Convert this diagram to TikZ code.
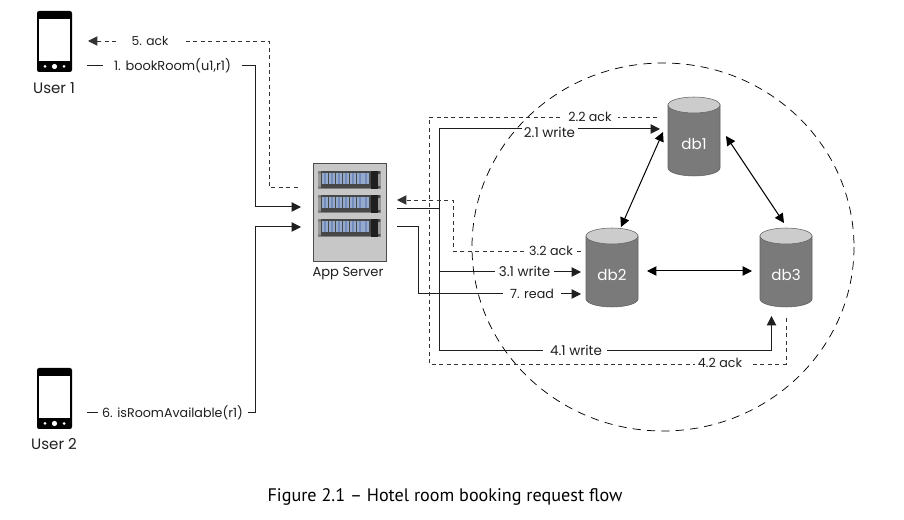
\documentclass[tikz,border=0pt]{standalone}
\usepackage{fontspec}
\setmainfont{Poppins}
\newfontfamily\capfont{PT Sans}
\usetikzlibrary{arrows.meta,positioning,calc}
\definecolor{rackblue}{RGB}{150,170,205}
\definecolor{rackdeep}{RGB}{115,140,185}
\tikzset{
  lbl/.style={inner sep=0pt,font=\fontsize{9.5pt}{11pt}\selectfont,text=black!88,anchor=center},
  wlbl/.style={lbl,font=\fontsize{10.1pt}{11pt}\selectfont},
  flow/.style={draw=black!88,line width=0.75pt},
  ackline/.style={draw=black!80,line width=0.65pt,dash pattern=on 3pt off 2.6pt},
  tip/.style={-{Triangle[length=7pt,width=7pt]}},
  both/.style={{Triangle[length=7pt,width=7pt]}-{Triangle[length=7pt,width=7pt]},draw=black,line width=0.75pt},
  dbtxt/.style={inner sep=0pt,text=white,font=\fontsize{11.3pt}{12pt}\selectfont},
}
\newcommand{\dbcyl}[3]{% name, left x, top y
  \fill[fill=black!52,draw=black!62,line width=0.4pt] (#2,#3+8) -- (#2,#3+71) arc[start angle=180,end angle=0,x radius=26,y radius=8] -- (#2+52,#3+8) -- cycle;
  \fill[fill=black!20,draw=black!62,line width=0.4pt] (#2+26,#3+8) ellipse[x radius=26,y radius=8];
  \node[dbtxt] (#1) at (#2+26,#3+47) {#1};
}
\newcommand{\phone}[2]{% left x, top y
  \fill[black,rounded corners=1.6pt] (#1,#2) rectangle (#1+35,#2+61);
  \fill[white] (#1+2,#2+8) rectangle (#1+33,#2+50);
  \fill[white] (#1+17.5,#2+55.5) circle[radius=2.6];
  \fill[white] (#1+8,#2+55.5) circle[radius=1.5];
  \fill[white] (#1+27,#2+55.5) circle[radius=1.5];
}
\newcommand{\rack}[1]{% top y
  \fill[black!50] (318,#1) rectangle (381,#1+18);
  \fill[black!72] (321,#1+0.5) rectangle (380,#1+17.5);
  \fill[black!88] (371,#1) rectangle (378,#1+18);
  \fill[black!40] (378,#1+3) rectangle (381,#1+15);
  \fill[black!40] (318,#1+3) rectangle (320.5,#1+15);
  \foreach \k in {0,...,6}{
    \fill[rackblue] (322+6.9*\k,#1+2) rectangle (328+6.9*\k,#1+13);
    \fill[rackdeep] (324+6.9*\k,#1+2) rectangle (326+6.9*\k,#1+13);
  }
}
\begin{document}
\begin{tikzpicture}[x=0.75pt,y=-0.75pt]
\useasboundingbox (0,0) rectangle (904,520);
\fill[white] (0,0) rectangle (904,520);

% dashed zone
\draw[black,line width=0.55pt,dash pattern=on 6.2pt off 4.6pt] (663,247) ellipse[x radius=191,y radius=184];

% devices
\phone{37}{11}
\phone{37}{368}
\node[lbl,font=\fontsize{11.3pt}{13pt}\selectfont] (user1) at (54,88) {User 1};
\node[lbl,font=\fontsize{11.3pt}{13pt}\selectfont] (user2) at (54,444) {User 2};

% server
\node[draw=black!70,fill=black!22,line width=0.5pt,minimum width=73*0.75pt,minimum height=98*0.75pt,inner sep=0pt] (server) at (349.5,212) {};
\rack{171}\rack{195}\rack{219}
\node[lbl,font=\fontsize{9.8pt}{12pt}\selectfont] (serverlbl) at (348,274) {App Server};

% databases
\dbcyl{db1}{668}{97}
\dbcyl{db2}{586}{228}
\dbcyl{db3}{760}{228}

% labels
\node[lbl,font=\fontsize{9.2pt}{11pt}\selectfont] (l5) at (150,41) {5. ack};
\node[lbl,font=\fontsize{9.7pt}{11pt}\selectfont] (l1) at (172.5,66) {1. bookRoom(u1,r1)};
\node[lbl] (l6) at (172.5,413) {6. isRoomAvailable(r1)};
\node[lbl] (l22) at (590,117) {2.2 ack};
\node[wlbl] (l21) at (549.5,132) {2.1 write};
\node[lbl] (l32) at (551,251) {3.2 ack};
\node[wlbl] (l31) at (524.5,271) {3.1 write};
\node[lbl] (l7) at (532,294) {7. read};
\node[wlbl] (l41) at (576,350) {4.1 write};
\node[lbl] (l42) at (720,363) {4.2 ack};

% free ends
\coordinate (u1out) at (87,66);
\coordinate (u1in) at (88,41);
\coordinate (u2out) at (87,413);
\coordinate (sIn1) at (301,207);
\coordinate (sIn2) at (301,227);
\coordinate (sAck) at (301,187);
\coordinate (sOut1) at (397,209);
\coordinate (sOut2) at (397,227);
\coordinate (sAckIn) at (397,200);
\coordinate (bus) at (439,209);
\coordinate (db1in) at (660,129);
\coordinate (db1ack) at (657,117);
\coordinate (db2in1) at (581,272);
\coordinate (db2in2) at (581,294);
\coordinate (db2ack) at (581,251);
\coordinate (db3in) at (771.5,316);
\coordinate (db3ack) at (786,318);

% requests
\draw[flow] (u1out) -- (103,66);
\draw[flow,tip] (242,66) -- (255,66) -- (255,207) -- (sIn1);
\draw[flow] (u2out) -- (98,413);
\draw[flow,tip] (248,413) -- (255,413) -- (255,227) -- (sIn2);
\draw[ackline,tip] (l5.west) ++(-15,0) -- (u1in);
\draw[ackline] (186,41) -- (269,41) -- (269,187) -- (sAck);

% writes
\draw[flow] (sOut1) -- (bus);
\draw[flow] (522,129) -- (439,129) -- (439,351) -- (543,351);
\draw[flow,tip] (578,129) -- (db1in);
\draw[flow] (607,351) -- (771.5,351);
\draw[flow,tip] (771.5,351) -- (db3in);
\draw[flow] (439,272) -- (495,272);
\draw[flow,tip] (554,272) -- (db2in1);
\draw[flow] (sOut2) -- (418,227) -- (418,294) -- (503,294);
\draw[flow,tip] (561,294) -- (db2in2);

% acks
\draw[ackline] (db1ack) -- (618,117);
\draw[ackline] (560,117) -- (429,117) -- (429,364) -- (695,364);
\draw[ackline] (753,364) -- (786,364) -- (db3ack);
\draw[ackline] (db2ack) -- (576,251);
\draw[ackline,tip] (524,251) -- (453,251) -- (453,200) -- (sAckIn);

% replication
\draw[both] (663,132) -- (621,227);
\draw[both] (726,136) -- (784,223);
\draw[both] (647,271) -- (752,271);

% caption
\node[inner sep=0pt,font=\capfont\fontsize{13.6pt}{15pt}\selectfont,text=black] (caption) at (445,497) {Figure 2.1 – Hotel room booking request flow};
\end{tikzpicture}
\end{document}
